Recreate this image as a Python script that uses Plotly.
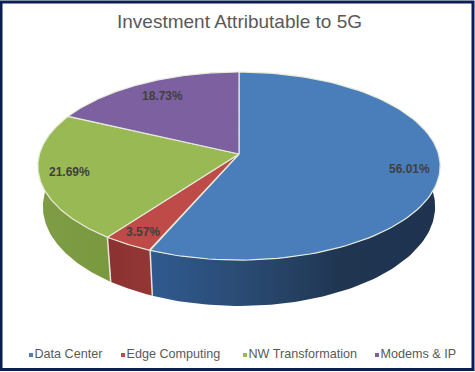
import numpy as np
import plotly.graph_objects as go

title = "Investment Attributable to 5G"
categories = ["Data Center", "Edge Computing", "NW Transformation", "Modems & IP"]
values = [56.01, 3.57, 21.69, 18.73]
top_colors = ["#4a7ebb", "#be4b48", "#98b954", "#7d60a0"]
# side wall gradients, left to right
side_colors = [
    ["#2f5a8f", "#2a4a72", "#1f3550", "#1f3350"],
    ["#8a3230", "#933735"],
    ["#7f9d45", "#7a983e"],
    ["#5a4476", "#5a4476"],
]
label_shift = [(0, 0), (-3, -3), (0, 1), (5, -3)]
legend_x = [31, 123, 245, 377]
LEGEND_Y = 355

# projection of the pie disc onto the page (page pixels)
CX, CY, A, B, K, DEPTH, TWIST, TAPER = 239, 154, 199.5, 92.5, 0.128, 40, 0.61, 0.975


def project(theta, r=1.0):
    u = np.asarray(theta) / (2 * np.pi)
    th = theta + TWIST * u ** 4 * (1 - u)
    X, Y = r * np.sin(th), r * np.cos(th)
    s = 1 / (1 + K * Y)
    return CX + A * X * s, CY - B * Y * s, s


def base(x, y, s):
    return CX + (x - CX) * TAPER, y + DEPTH * s


fig = go.Figure()
total = sum(values)
edges = np.cumsum([0] + values) / total * 2 * np.pi
VIS0, VIS1 = np.radians(80), np.radians(280)

# side walls
for i in range(len(values)):
    a0, a1 = max(edges[i], VIS0), min(edges[i + 1], VIS1)
    if a1 <= a0:
        continue
    t = np.linspace(a0, a1, 80)
    x, y, s = project(t)
    xb, yb = base(x, y, s)
    n = len(side_colors[i])
    scale = [[j / (n - 1), c] for j, c in enumerate(side_colors[i])]
    fig.add_trace(go.Scatter(
        x=np.r_[x, xb[::-1], x[0]], y=np.r_[y, yb[::-1], y[0]], mode="lines",
        line=dict(width=0), fill="toself", showlegend=False, hoverinfo="skip",
        fillgradient=dict(type="horizontal", colorscale=scale)))

# wall seams
sx, sy = [], []
for e in edges:
    if VIS0 < e < VIS1:
        x, y, s = project(e)
        xb, yb = base(x, y, s)
        sx += [x, xb, None]
        sy += [y, yb, None]
fig.add_trace(go.Scatter(x=sx, y=sy, mode="lines", showlegend=False, hoverinfo="skip",
                         line=dict(color="#e8e4dc", width=1.5)))

# top faces
for i in range(len(values)):
    t = np.linspace(edges[i], edges[i + 1], 120)
    x, y, _ = project(t)
    fig.add_trace(go.Scatter(
        x=np.r_[CX, x, CX], y=np.r_[CY, y, CY], mode="lines", fill="toself",
        fillcolor=top_colors[i], line=dict(color="#e6ecdc", width=1.2),
        showlegend=False, hoverinfo="skip"))

# legend entries, drawn as marker + text so the spacing matches
for name, c, lx in zip(categories, top_colors, legend_x):
    fig.add_trace(go.Scatter(
        x=[lx], y=[LEGEND_Y], mode="markers+text", name=name, text=[name],
        textposition="middle right", showlegend=False, hoverinfo="skip",
        marker=dict(symbol="square", size=4, color=c),
        textfont=dict(family="Liberation Sans", size=12.6, color="#595959")))

# data labels
for i, v in enumerate(values):
    x, y, _ = project((edges[i] + edges[i + 1]) / 2, 0.85)
    fig.add_annotation(x=x, y=y, xref="x", yref="y", text=f"{v:.2f}%", showarrow=False,
                       xshift=label_shift[i][0], yshift=label_shift[i][1],
                       font=dict(family="Liberation Sans", size=12, color="#404040", weight="bold"))

fig.update_layout(
    width=475, height=372, margin=dict(l=0, r=0, t=0, b=0),
    paper_bgcolor="white", plot_bgcolor="white", showlegend=False,
    title=dict(text=title, x=239.5 / 475, xanchor="center", y=1 - 21 / 372, yanchor="middle",
               font=dict(family="Liberation Sans", size=19, color="#595959")),
    xaxis=dict(range=[0, 475], visible=False, fixedrange=True),
    yaxis=dict(range=[372, 0], visible=False, fixedrange=True),
    shapes=[dict(type="rect", xref="x", yref="y", x0=1, x1=473, y0=2, y1=369.5,
                 line=dict(color="#0b1f55", width=3), layer="above")],
)
fig.write_html("out.html", post_script="document.body.style.margin='0';",
               config=dict(displayModeBar=False))
